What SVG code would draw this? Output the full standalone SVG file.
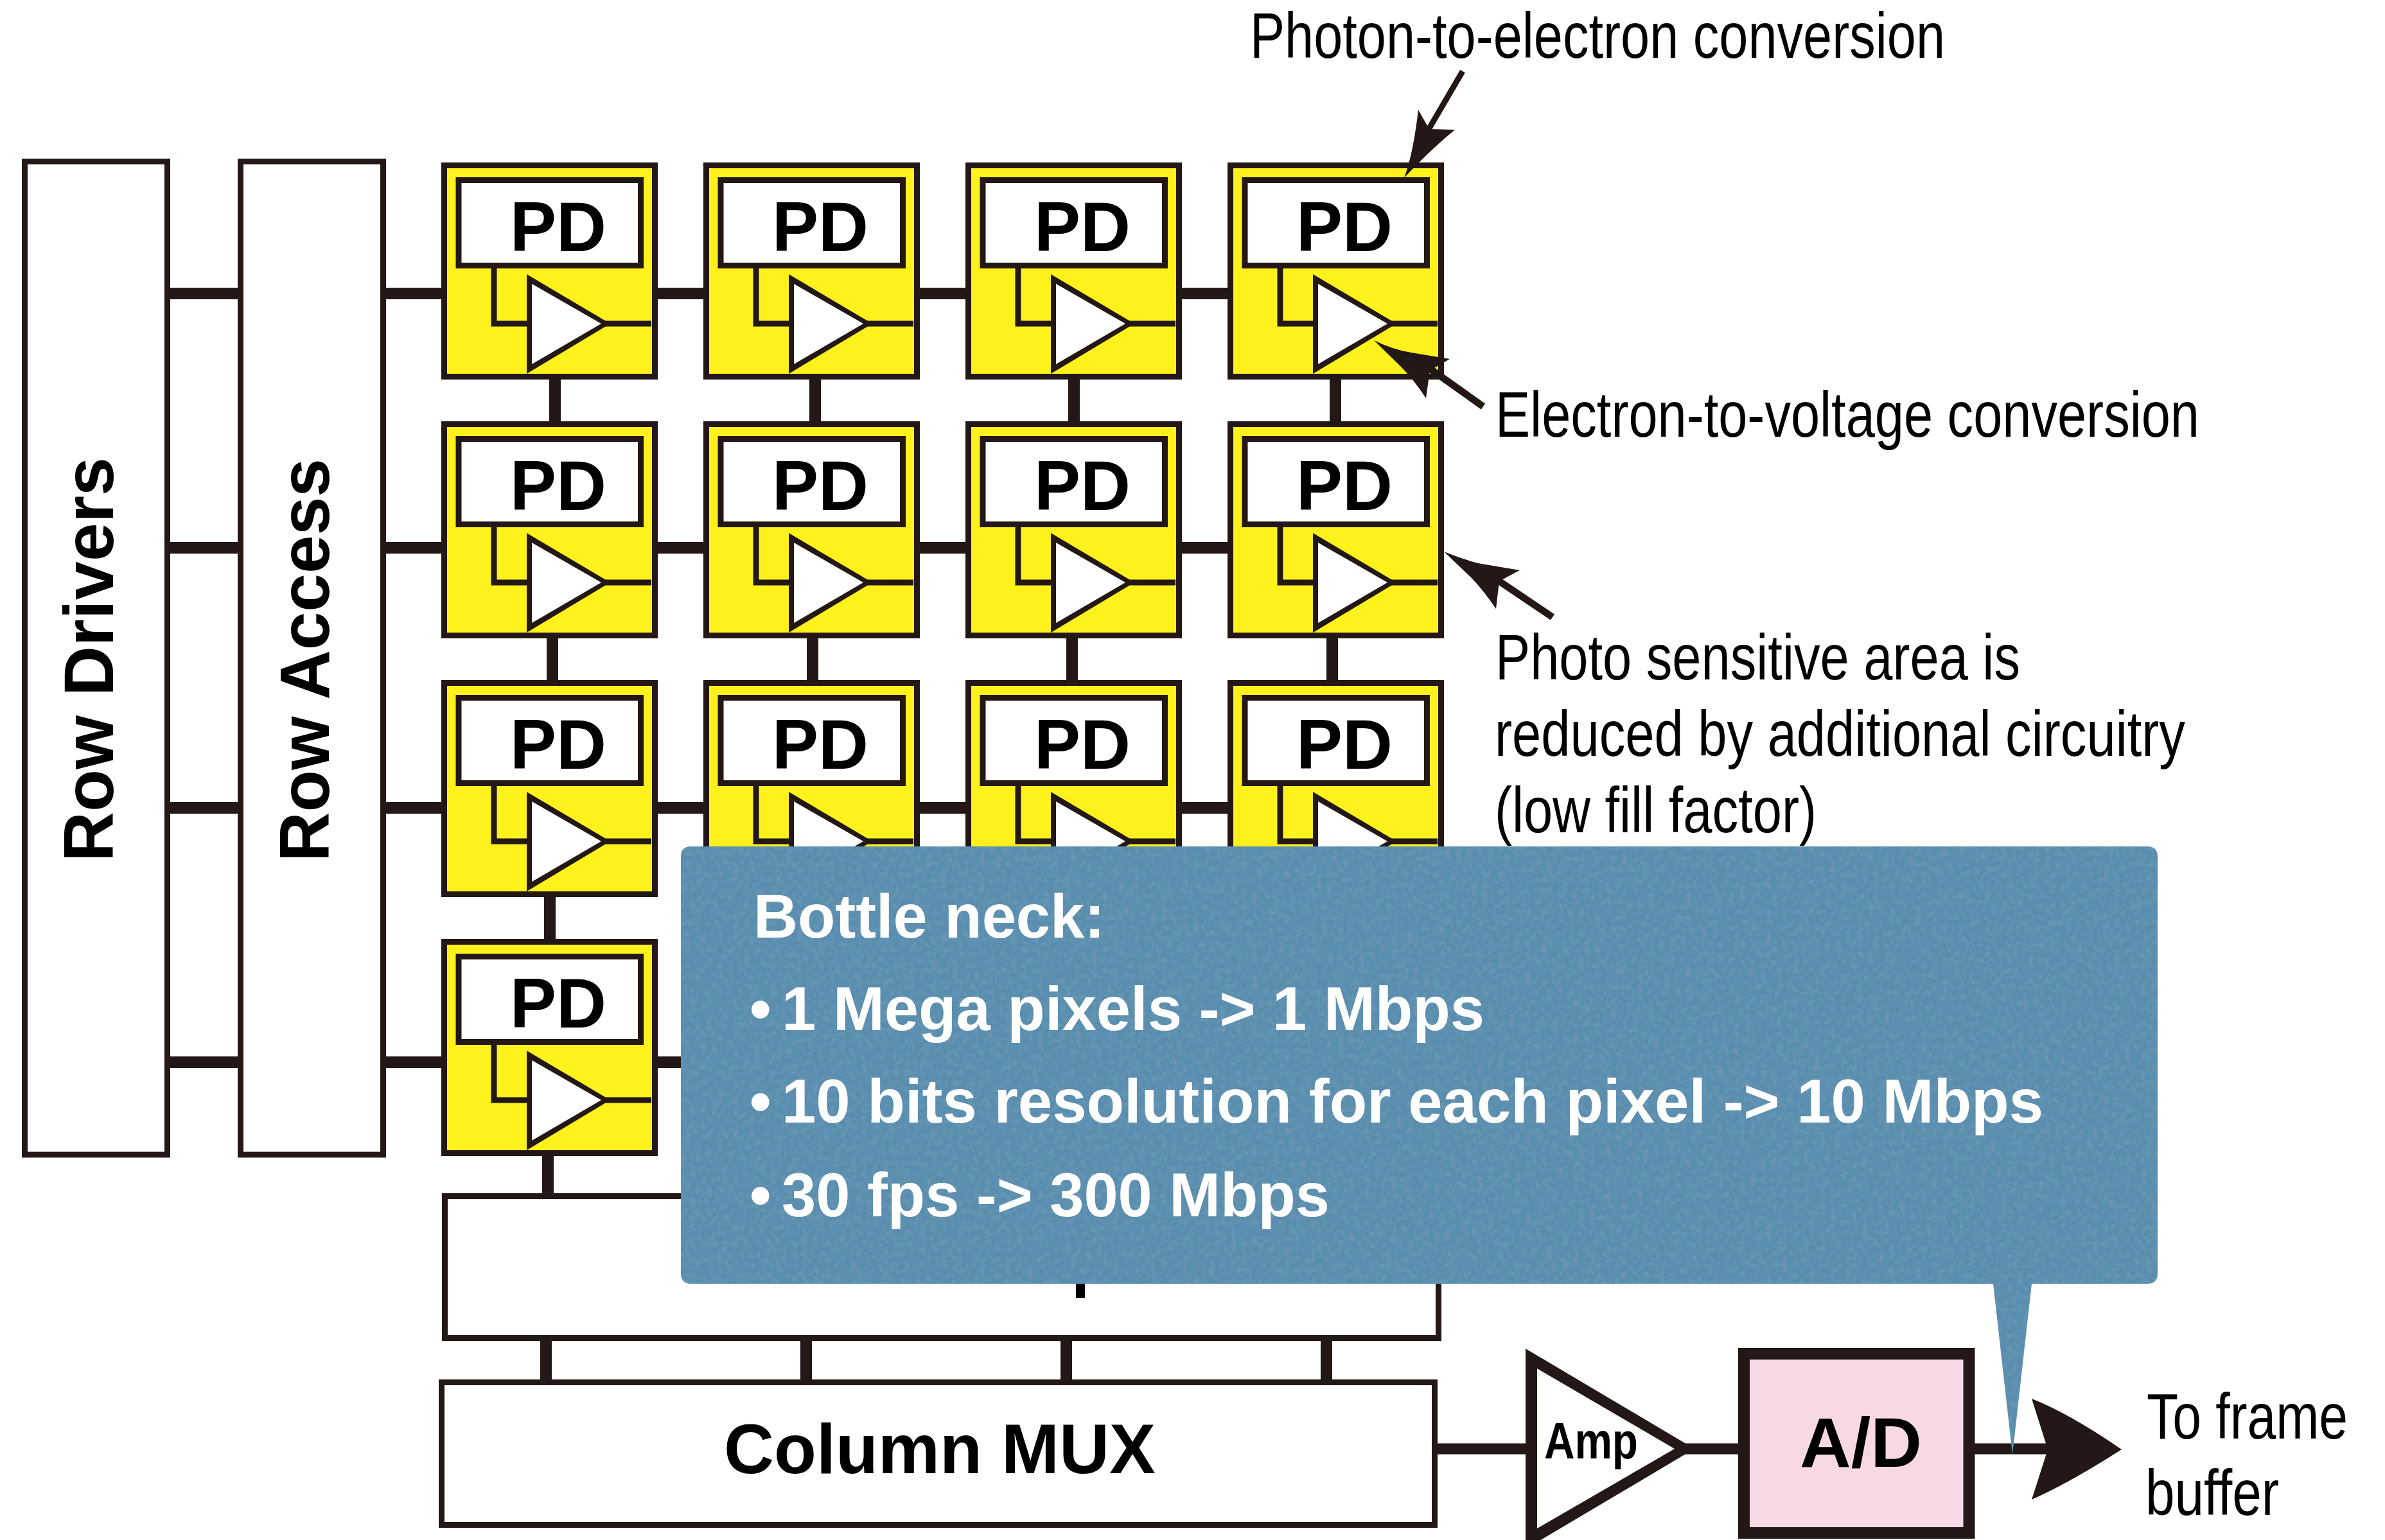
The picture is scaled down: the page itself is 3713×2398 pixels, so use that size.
<svg xmlns="http://www.w3.org/2000/svg" width="3713" height="2398" viewBox="0 0 3713 2398">
<defs>
<filter id="paper" x="0" y="0" width="1" height="1"><feTurbulence type="fractalNoise" baseFrequency="0.12" numOctaves="2" seed="4" result="n"/><feColorMatrix in="n" type="matrix" values="0 0 0 0 1 0 0 0 0 1 0 0 0 0 1 0.12 0 0 0 -0.05" result="t"/><feComposite in="t" in2="SourceAlpha" operator="in" result="tt"/><feMerge><feMergeNode in="SourceGraphic"/><feMergeNode in="tt"/></feMerge></filter>
</defs>
<style>
.box{fill:#fff;stroke:#231815;stroke-width:9}
.cell{fill:#fff21c;stroke:#231815;stroke-width:9}
.pd{fill:#fff;stroke:#231815;stroke-width:9}
.wire{fill:none;stroke:#231815;stroke-width:9}
.bus{fill:none;stroke:#231815;stroke-width:18}
.thin{fill:none;stroke:#231815;stroke-width:11}
.ink{fill:#231815;stroke:none}
.white{fill:#fff;stroke:none}
.b{font-family:"Liberation Sans",Arial,sans-serif;font-weight:700;font-size:110px;fill:#000}
.n{font-family:"Liberation Sans",Arial,sans-serif;font-size:101px;fill:#000}
.c{font-family:"Liberation Sans",Arial,sans-serif;font-weight:700;font-size:96px;fill:#fff}
</style>
<g id="row-drivers"><rect class="box" x="38.500" y="251.500" width="222" height="1546.500"/><text class="b" transform="translate(176 1342) rotate(-90)" textLength="630" lengthAdjust="spacingAndGlyphs">Row Drivers</text></g>
<g id="row-access"><rect class="box" x="374.500" y="251.500" width="222" height="1546.500"/><text class="b" transform="translate(512 1342) rotate(-90)" textLength="628" lengthAdjust="spacingAndGlyphs">Row Access</text></g>
<g id="pixel-r1c1" transform="translate(687 253)"><rect class="cell" x="4.500" y="4.500" width="328" height="329"/><rect class="pd" x="27" y="27.500" width="283.500" height="133"/><path class="wire" d="M82 165V251H133M250 251H327"/><polygon class="ink" points="133,174 263,251 133,329"/><polygon class="white" points="141,189 249,251 141,314"/><text class="b" x="107" y="138" textLength="150" lengthAdjust="spacingAndGlyphs">PD</text></g>
<g id="pixel-r1c2" transform="translate(1095 253)"><rect class="cell" x="4.500" y="4.500" width="328" height="329"/><rect class="pd" x="27" y="27.500" width="283.500" height="133"/><path class="wire" d="M82 165V251H133M250 251H327"/><polygon class="ink" points="133,174 263,251 133,329"/><polygon class="white" points="141,189 249,251 141,314"/><text class="b" x="107" y="138" textLength="150" lengthAdjust="spacingAndGlyphs">PD</text></g>
<g id="pixel-r1c3" transform="translate(1503 253)"><rect class="cell" x="4.500" y="4.500" width="328" height="329"/><rect class="pd" x="27" y="27.500" width="283.500" height="133"/><path class="wire" d="M82 165V251H133M250 251H327"/><polygon class="ink" points="133,174 263,251 133,329"/><polygon class="white" points="141,189 249,251 141,314"/><text class="b" x="107" y="138" textLength="150" lengthAdjust="spacingAndGlyphs">PD</text></g>
<g id="pixel-r1c4" transform="translate(1911 253)"><rect class="cell" x="4.500" y="4.500" width="328" height="329"/><rect class="pd" x="27" y="27.500" width="283.500" height="133"/><path class="wire" d="M82 165V251H133M250 251H327"/><polygon class="ink" points="133,174 263,251 133,329"/><polygon class="white" points="141,189 249,251 141,314"/><text class="b" x="107" y="138" textLength="150" lengthAdjust="spacingAndGlyphs">PD</text></g>
<g id="pixel-r2c1" transform="translate(687 656)"><rect class="cell" x="4.500" y="4.500" width="328" height="329"/><rect class="pd" x="27" y="27.500" width="283.500" height="133"/><path class="wire" d="M82 165V251H133M250 251H327"/><polygon class="ink" points="133,174 263,251 133,329"/><polygon class="white" points="141,189 249,251 141,314"/><text class="b" x="107" y="138" textLength="150" lengthAdjust="spacingAndGlyphs">PD</text></g>
<g id="pixel-r2c2" transform="translate(1095 656)"><rect class="cell" x="4.500" y="4.500" width="328" height="329"/><rect class="pd" x="27" y="27.500" width="283.500" height="133"/><path class="wire" d="M82 165V251H133M250 251H327"/><polygon class="ink" points="133,174 263,251 133,329"/><polygon class="white" points="141,189 249,251 141,314"/><text class="b" x="107" y="138" textLength="150" lengthAdjust="spacingAndGlyphs">PD</text></g>
<g id="pixel-r2c3" transform="translate(1503 656)"><rect class="cell" x="4.500" y="4.500" width="328" height="329"/><rect class="pd" x="27" y="27.500" width="283.500" height="133"/><path class="wire" d="M82 165V251H133M250 251H327"/><polygon class="ink" points="133,174 263,251 133,329"/><polygon class="white" points="141,189 249,251 141,314"/><text class="b" x="107" y="138" textLength="150" lengthAdjust="spacingAndGlyphs">PD</text></g>
<g id="pixel-r2c4" transform="translate(1911 656)"><rect class="cell" x="4.500" y="4.500" width="328" height="329"/><rect class="pd" x="27" y="27.500" width="283.500" height="133"/><path class="wire" d="M82 165V251H133M250 251H327"/><polygon class="ink" points="133,174 263,251 133,329"/><polygon class="white" points="141,189 249,251 141,314"/><text class="b" x="107" y="138" textLength="150" lengthAdjust="spacingAndGlyphs">PD</text></g>
<g id="pixel-r3c1" transform="translate(687 1059)"><rect class="cell" x="4.500" y="4.500" width="328" height="329"/><rect class="pd" x="27" y="27.500" width="283.500" height="133"/><path class="wire" d="M82 165V251H133M250 251H327"/><polygon class="ink" points="133,174 263,251 133,329"/><polygon class="white" points="141,189 249,251 141,314"/><text class="b" x="107" y="138" textLength="150" lengthAdjust="spacingAndGlyphs">PD</text></g>
<g id="pixel-r3c2" transform="translate(1095 1059)"><rect class="cell" x="4.500" y="4.500" width="328" height="329"/><rect class="pd" x="27" y="27.500" width="283.500" height="133"/><path class="wire" d="M82 165V251H133M250 251H327"/><polygon class="ink" points="133,174 263,251 133,329"/><polygon class="white" points="141,189 249,251 141,314"/><text class="b" x="107" y="138" textLength="150" lengthAdjust="spacingAndGlyphs">PD</text></g>
<g id="pixel-r3c3" transform="translate(1503 1059)"><rect class="cell" x="4.500" y="4.500" width="328" height="329"/><rect class="pd" x="27" y="27.500" width="283.500" height="133"/><path class="wire" d="M82 165V251H133M250 251H327"/><polygon class="ink" points="133,174 263,251 133,329"/><polygon class="white" points="141,189 249,251 141,314"/><text class="b" x="107" y="138" textLength="150" lengthAdjust="spacingAndGlyphs">PD</text></g>
<g id="pixel-r3c4" transform="translate(1911 1059)"><rect class="cell" x="4.500" y="4.500" width="328" height="329"/><rect class="pd" x="27" y="27.500" width="283.500" height="133"/><path class="wire" d="M82 165V251H133M250 251H327"/><polygon class="ink" points="133,174 263,251 133,329"/><polygon class="white" points="141,189 249,251 141,314"/><text class="b" x="107" y="138" textLength="150" lengthAdjust="spacingAndGlyphs">PD</text></g>
<g id="pixel-r4c1" transform="translate(687 1462)"><rect class="cell" x="4.500" y="4.500" width="328" height="329"/><rect class="pd" x="27" y="27.500" width="283.500" height="133"/><path class="wire" d="M82 165V251H133M250 251H327"/><polygon class="ink" points="133,174 263,251 133,329"/><polygon class="white" points="141,189 249,251 141,314"/><text class="b" x="107" y="138" textLength="150" lengthAdjust="spacingAndGlyphs">PD</text></g>
<g id="column-amps"><rect class="box" x="692.500" y="1862.500" width="1547" height="221"/><text class="b" x="1098" y="1998" textLength="689" lengthAdjust="spacingAndGlyphs">Column Amps</text></g>
<g id="column-mux"><rect class="box" x="687.500" y="2152.500" width="1546" height="222"/><text class="b" x="1127" y="2294" textLength="672" lengthAdjust="spacingAndGlyphs">Column MUX</text></g>
<g id="amp"><polygon class="ink" points="2375,2100 2638,2256 2375,2412"/><polygon class="white" points="2393,2131 2607,2256 2393,2380"/><text class="b" style="font-size:80px" x="2404" y="2271" textLength="146" lengthAdjust="spacingAndGlyphs">Amp</text></g>
<g id="ad"><rect x="2715" y="2108" width="350.500" height="279" fill="#f7d9e6" stroke="#231815" stroke-width="18"/><text class="b" x="2802" y="2284" textLength="190" lengthAdjust="spacingAndGlyphs">A/D</text></g>
<g id="connectors">
<path class="bus" d="M265 457H370M601 457H687M1024 457H1095M1432 457H1503M1840 457H1911M265 853H370M601 853H687M1024 853H1095M1432 853H1503M1840 853H1911M265 1258H370M601 1258H687M1024 1258H1095M1432 1258H1503M1840 1258H1911M265 1654H370M601 1654H687M1024 1654H1080"/>
<path class="bus" d="M864 591V656M1269 591V656M1672 591V656M2079 591V656M860 994V1059M1265 994V1059M1669 994V1059M2074 994V1059M856 1397V1462M853 1799V1858"/>
<path class="bus" d="M850 2088V2148M1255 2088V2148M1660 2088V2148M2065 2088V2148"/>
<path class="bus" style="stroke-width:17" d="M2238 2256H2375M2615 2256H2706M3074 2256H3190"/>
<path class="ink" d="M3163 2178Q3220 2200 3303 2257Q3220 2310 3163 2335L3188 2257Z"/>
<path class="wire" d="M2277 111L2222 205"/>
<path class="ink" d="M2186 277Q2200 240 2208 171L2225 201L2265 202Q2225 235 2186 277Z"/>
<path class="thin" d="M2309 633L2226 574"/>
<path class="ink" d="M2139 530Q2170 545 2197 549L2257 559L2226 577L2220 620Q2200 590 2181 571Z"/>
<path class="thin" d="M2417 961L2331 903"/>
<path class="ink" d="M2248 859Q2275 870 2301 877L2366 888L2334 905L2329 948Q2310 920 2291 900Z"/>
</g>
<g id="annotations">
<text class="n" x="1946" y="90" textLength="1082" lengthAdjust="spacingAndGlyphs">Photon-to-electron conversion</text>
<text class="n" x="2328" y="680" textLength="1096" lengthAdjust="spacingAndGlyphs">Electron-to-voltage conversion</text>
<text class="n" x="2328" y="1058" textLength="817" lengthAdjust="spacingAndGlyphs">Photo sensitive area is</text>
<text class="n" x="2327" y="1177" textLength="1075" lengthAdjust="spacingAndGlyphs">reduced by additional circuitry</text>
<text class="n" x="2327" y="1296" textLength="501" lengthAdjust="spacingAndGlyphs">(low fill factor)</text>
<text class="n" x="3342" y="2240" textLength="313" lengthAdjust="spacingAndGlyphs">To frame</text>
<text class="n" x="3340" y="2359" textLength="208" lengthAdjust="spacingAndGlyphs">buffer</text>
</g>
<g id="callout">
<path fill="#5a8eaf" filter="url(#paper)" d="M1076 1318H3343Q3359 1318 3359 1334V1983Q3359 1999 3343 1999H3163L3133 2265L3103 1999H1076Q1060 1999 1060 1983V1334Q1060 1318 1076 1318Z"/>
<text class="c" x="1173" y="1460" textLength="547" lengthAdjust="spacingAndGlyphs">Bottle neck:</text>
<text class="c" x="1167" y="1604">•</text>
<text class="c" x="1217" y="1604" textLength="1094" lengthAdjust="spacingAndGlyphs">1 Mega pixels -&gt; 1 Mbps</text>
<text class="c" x="1167" y="1748">•</text>
<text class="c" x="1217" y="1748" textLength="1964" lengthAdjust="spacingAndGlyphs">10 bits resolution for each pixel -&gt; 10 Mbps</text>
<text class="c" x="1167" y="1894">•</text>
<text class="c" x="1217" y="1894" textLength="853" lengthAdjust="spacingAndGlyphs">30 fps -&gt; 300 Mbps</text>
</g>
</svg>
